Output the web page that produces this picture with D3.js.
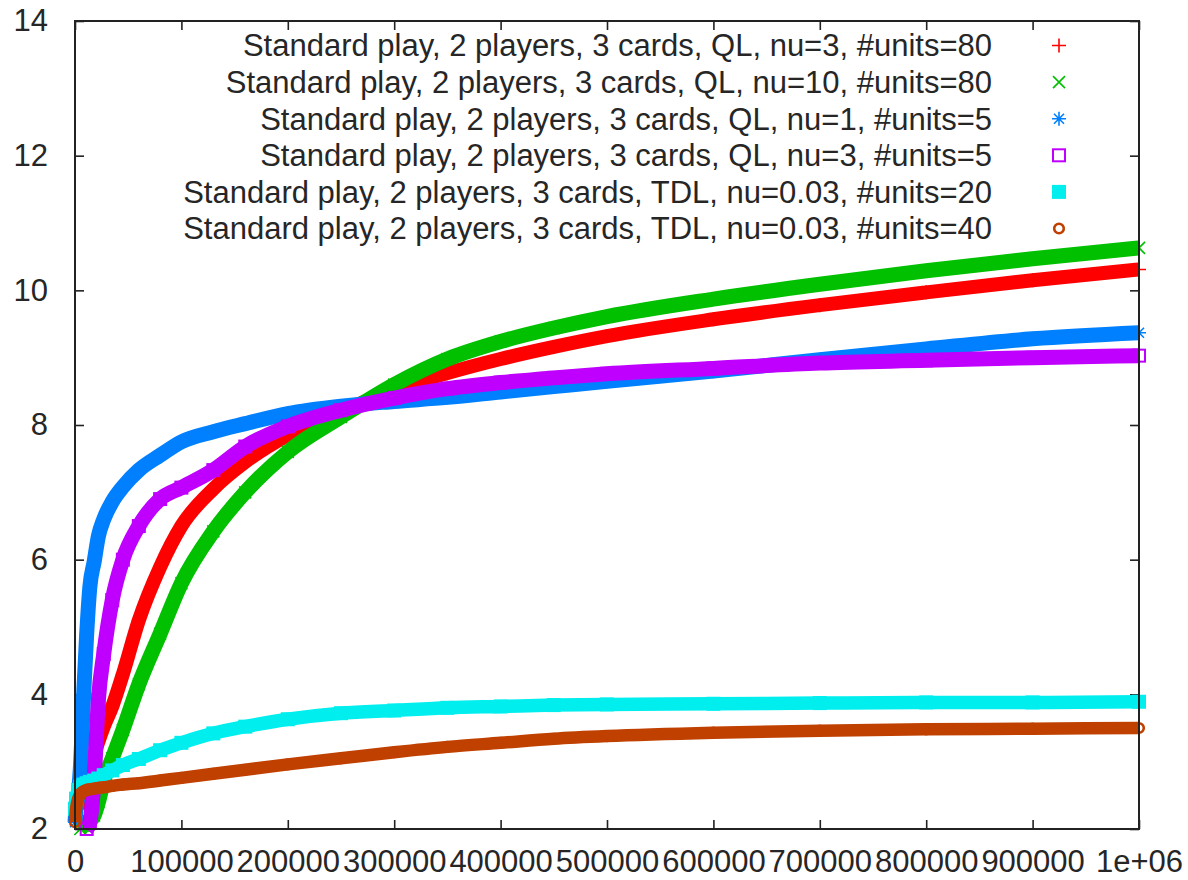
<!DOCTYPE html>
<html>
<head>
<meta charset="utf-8">
<script src="https://cdn.jsdelivr.net/npm/d3@7"></script>
<style>
  body { margin: 0; background: #fff; }
  svg { display: block; }
  text { font-family: "Liberation Sans", Arial, sans-serif; }
</style>
</head>
<body>
<svg id="chart" width="1188" height="880"></svg>
<script>
// Training steps (x) at which each run was evaluated
const steps = [0, 1, 3, 5, 8, 11, 14, 18, 22, 27, 35, 45, 60, 80, 100, 130, 160, 200,
               250, 300, 350, 400, 450, 500, 600, 700, 800, 900, 1000].map(k => k * 1000);

// Average score per run (null = not yet recorded)
const qlNu3Units80 = [null, null, 2.3, 2.5, 2.65, 2.77, 2.92, 3.1, 3.3, 3.52, 3.82, 4.3, 5.1, 5.89, 6.5, 7.05, 7.45, 7.85,
                      8.2, 8.52, 8.77, 8.98, 9.16, 9.32, 9.57, 9.78, 9.97, 10.15, 10.31];
const qlNu10Units80 = [null, null, null, 2.0, 2.05, 2.08, 2.12, 2.2, 2.4, 2.72, 3.05, 3.47, 4.15, 4.9, 5.65, 6.42, 7.0, 7.6,
                       8.12, 8.6, 8.98, 9.24, 9.44, 9.61, 9.87, 10.09, 10.29, 10.47, 10.63];
const qlNu1Units5 = [2.1, 2.3, 2.5, 2.9, 3.95, 4.9, 5.6, 5.97, 6.35, 6.6, 6.86, 7.08, 7.33, 7.55, 7.75, 7.9, 8.02, 8.17,
                     8.28, 8.35, 8.41, 8.49, 8.57, 8.65, 8.8, 8.97, 9.13, 9.28, 9.37];
const qlNu3Units5 = [null, null, null, null, null, 2.0, 2.1, 2.75, 3.92, 4.6, 5.4, 6.0, 6.5, 6.9, 7.07, 7.33, 7.68, 7.98,
                     8.22, 8.4, 8.54, 8.63, 8.7, 8.76, 8.84, 8.92, 8.96, 9.0, 9.03];
const tdlNu003Units20 = [2.3, 2.45, 2.58, 2.63, 2.66, 2.68, 2.7, 2.72, 2.75, 2.8, 2.87, 2.95, 3.04, 3.17, 3.28, 3.42, 3.52, 3.63,
                         3.72, 3.76, 3.8, 3.82, 3.84, 3.85, 3.86, 3.87, 3.88, 3.88, 3.89];
const tdlNu003Units40 = [2.1, 2.3, 2.45, 2.52, 2.56, 2.58, 2.59, 2.6, 2.61, 2.62, 2.64, 2.66, 2.68, 2.72, 2.76, 2.82, 2.88, 2.96,
                         3.05, 3.14, 3.22, 3.28, 3.34, 3.38, 3.43, 3.46, 3.48, 3.49, 3.5];

const seriesLabels = [
  "Standard play, 2 players, 3 cards, QL, nu=3, #units=80",
  "Standard play, 2 players, 3 cards, QL, nu=10, #units=80",
  "Standard play, 2 players, 3 cards, QL, nu=1, #units=5",
  "Standard play, 2 players, 3 cards, QL, nu=3, #units=5",
  "Standard play, 2 players, 3 cards, TDL, nu=0.03, #units=20",
  "Standard play, 2 players, 3 cards, TDL, nu=0.03, #units=40"
];
const seriesValues = [qlNu3Units80, qlNu10Units80, qlNu1Units5, qlNu3Units5, tdlNu003Units20, tdlNu003Units40];
const seriesColors = ["#ff0000", "#00c000", "#0080ff", "#c000ff", "#00eeee", "#c04000"];
const seriesMarkers = ["plus", "cross", "star", "box", "boxFilled", "circle"];
const bandWidths = [14, 15, 15, 15, 13.5, 12.5];

const xTicks = [0, 100000, 200000, 300000, 400000, 500000, 600000, 700000, 800000, 900000, 1000000];
const xTickLabels = ["0", "100000", "200000", "300000", "400000", "500000", "600000", "700000", "800000", "900000", "1e+06"];
const yTicks = [2, 4, 6, 8, 10, 12, 14];

const svg = d3.select("#chart");
const frame = { left: 75, right: 1139, top: 21, bottom: 829 };

const x = d3.scaleLinear().domain([0, 1000000]).range([frame.left, frame.right]);
const y = d3.scaleLinear().domain([2, 14]).range([frame.bottom, frame.top]);

const textColor = "#262626";
const fontSize = 31;
const tickLen = 9;

// Axes with inward ticks, mirrored on top and right
function styleAxis(g) {
  g.select(".domain").remove();
  g.selectAll(".tick line").attr("stroke", "#222").attr("stroke-width", 1.6);
  g.selectAll("text").attr("font-size", fontSize).attr("fill", textColor)
    .attr("font-family", "'Liberation Sans', Arial, sans-serif");
}
svg.append("g").attr("transform", `translate(0,${frame.bottom})`)
  .call(d3.axisBottom(x).tickValues(xTicks).tickFormat((d, i) => xTickLabels[i])
    .tickSizeInner(-tickLen).tickSizeOuter(0).tickPadding(21))
  .call(styleAxis);
svg.append("g").attr("transform", `translate(0,${frame.top})`)
  .call(d3.axisTop(x).tickValues(xTicks).tickFormat("").tickSizeInner(-tickLen).tickSizeOuter(0))
  .call(styleAxis);
svg.append("g").attr("transform", `translate(${frame.left},0)`)
  .call(d3.axisLeft(y).tickValues(yTicks).tickFormat(d3.format("d"))
    .tickSizeInner(-tickLen).tickSizeOuter(0).tickPadding(27))
  .call(styleAxis);
svg.append("g").attr("transform", `translate(${frame.right},0)`)
  .call(d3.axisRight(y).tickValues(yTicks).tickFormat("").tickSizeInner(-tickLen).tickSizeOuter(0))
  .call(styleAxis);

// Point marker shapes
function drawMarker(g, type, color) {
  if (type === "plus") {
    g.append("path").attr("d", "M-7,0H7M0,-7V7").attr("stroke", color).attr("stroke-width", 1.6).attr("fill", "none");
  } else if (type === "cross") {
    g.append("path").attr("d", "M-6,-6L6,6M-6,6L6,-6").attr("stroke", color).attr("stroke-width", 1.6).attr("fill", "none");
  } else if (type === "star") {
    g.append("path").attr("d", "M-7,0H7M0,-7V7M-5,-5L5,5M-5,5L5,-5").attr("stroke", color).attr("stroke-width", 1.6).attr("fill", "none");
  } else if (type === "box") {
    g.append("rect").attr("x", -6).attr("y", -6).attr("width", 12).attr("height", 12)
      .attr("stroke", color).attr("stroke-width", 2).attr("fill", "none");
  } else if (type === "boxFilled") {
    g.append("rect").attr("x", -7).attr("y", -7).attr("width", 14).attr("height", 14).attr("fill", color);
  } else if (type === "circle") {
    g.append("circle").attr("r", 4.8).attr("stroke", color).attr("stroke-width", 2.6).attr("fill", "none");
  }
}

// Each run drawn as a dense band of points
const plot = svg.append("g");
seriesValues.forEach((vals, si) => {
  const pts = steps.map((s, i) => ({ s, v: vals[i] })).filter(d => d.v !== null);
  const line = d3.line().x(d => x(d.s)).y(d => y(d.v)).curve(d3.curveMonotoneX);
  plot.append("path").attr("d", line(pts)).attr("fill", "none")
    .attr("stroke", seriesColors[si]).attr("stroke-width", bandWidths[si])
    .attr("stroke-linejoin", "round");
  pts.forEach(d => {
    const g = plot.append("g").attr("transform", `translate(${x(d.s)},${y(d.v)})`);
    drawMarker(g, seriesMarkers[si], seriesColors[si]);
  });
});

// Frame
svg.append("rect").attr("x", frame.left).attr("y", frame.top)
  .attr("width", frame.right - frame.left).attr("height", frame.bottom - frame.top)
  .attr("fill", "none").attr("stroke", "#222").attr("stroke-width", 2);

// Legend
const legend = svg.append("g");
seriesLabels.forEach((lab, i) => {
  const cy = 45.5 + i * 36.6;
  legend.append("text").attr("x", 992).attr("y", cy + 10.8).attr("text-anchor", "end")
    .attr("font-size", fontSize).attr("fill", textColor).text(lab);
  const g = legend.append("g").attr("transform", `translate(1059,${cy})`);
  drawMarker(g, seriesMarkers[i], seriesColors[i]);
});
</script>
</body>
</html>
